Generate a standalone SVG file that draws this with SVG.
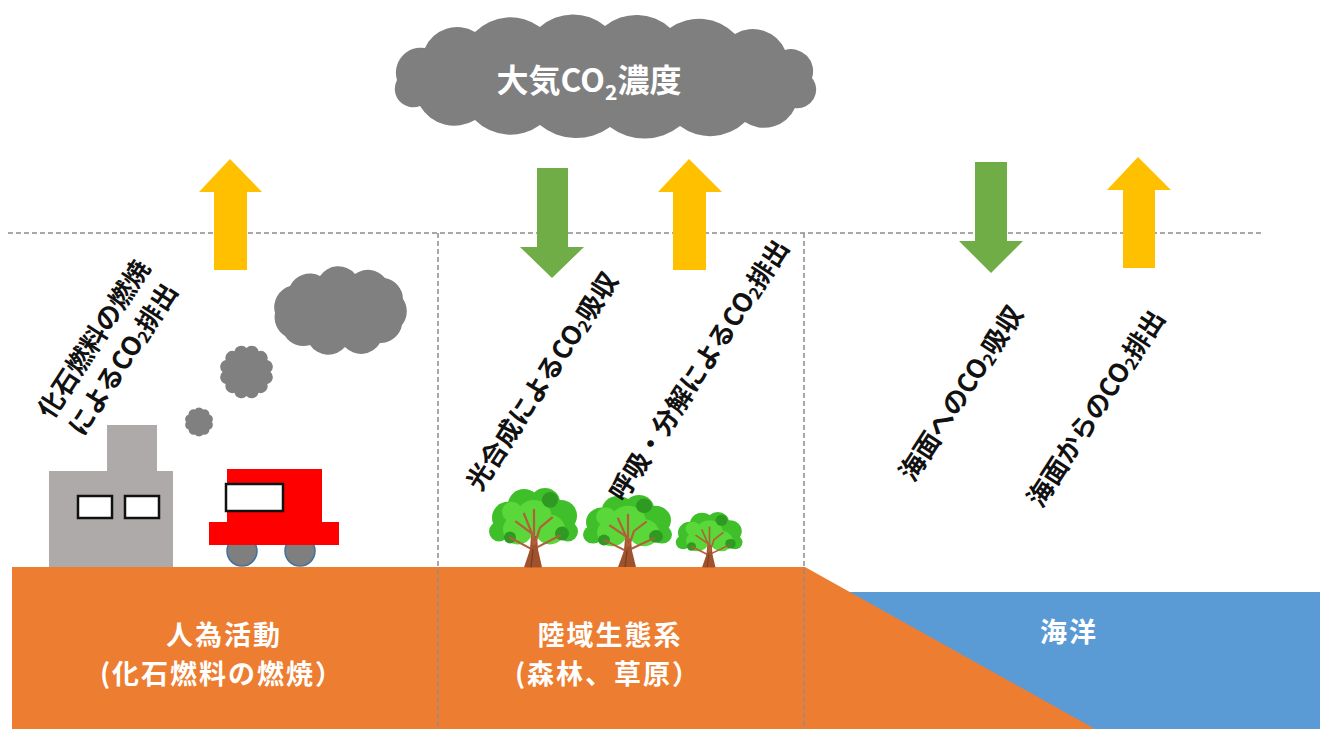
<svg xmlns="http://www.w3.org/2000/svg" xmlns:xlink="http://www.w3.org/1999/xlink" width="1323" height="729" viewBox="0 0 1323 729">
  <style>
    .jp { font-family: "Noto Sans CJK JP", "Noto Sans", sans-serif; font-weight: bold; }
    .label { fill: #ffffff; font-size: 27px; letter-spacing: 2px; text-anchor: middle; }
    .flowtxt { fill: #111111; font-size: 26px; text-anchor: middle; dominant-baseline: central; }
    .dash { stroke: #8c8c8c; stroke-width: 1.5; stroke-dasharray: 5 3; fill: none; }
    .smoke { fill: #808080; }
    .up { fill: #FFC000; }
    .down { fill: #70AD47; }
    .win { fill: #ffffff; stroke: #111111; stroke-width: 2.5; }
  </style>
  <defs>
    <!-- broad-leaf tree, 90 x 80 box, base at y=80 -->
    <g id="tree">
      <path d="M36,80 L54,80 L50,62 L49,48 L43,48 L42,62 Z" fill="#a0522d"/>
      <g fill="#3fbf2a">
        <circle cx="20" cy="30" r="16"/>
        <circle cx="36" cy="17" r="16"/>
        <circle cx="57" cy="15" r="15"/>
        <circle cx="73" cy="28" r="16"/>
        <circle cx="80" cy="44" r="10"/>
        <circle cx="11" cy="44" r="10"/>
      </g>
      <g fill="#5ad83a">
        <circle cx="30" cy="42" r="15"/>
        <circle cx="62" cy="42" r="15"/>
        <circle cx="46" cy="30" r="18"/>
        <circle cx="24" cy="24" r="10"/>
      </g>
      <g fill="#2f9a22">
        <circle cx="62" cy="12" r="8"/>
        <circle cx="74" cy="46" r="7"/>
        <circle cx="22" cy="50" r="6"/>
      </g>
      <g stroke="#b0603a" stroke-width="2.2" fill="none" stroke-linecap="round">
        <path d="M46,60 L44,46 L28,34"/>
        <path d="M47,56 L52,40 L64,30"/>
        <path d="M46,50 L46,22"/>
        <path d="M44,62 L22,50"/>
        <path d="M49,60 L72,48"/>
        <path d="M44,46 L36,26"/>
      </g>
      <path d="M38,80 L52,80 L49,58 L43,58 Z" fill="#a0522d"/>
      <path d="M43,80 L45,62" stroke="#7a3b1d" stroke-width="1.2"/>
    </g>
  </defs>

  <rect width="1323" height="729" fill="#ffffff"/>

  <!-- ground and sea -->
  <g id="ocean">
    <rect x="838" y="592" width="482" height="137" fill="#5B9BD5"/>
    <text class="jp label" x="1069" y="642">海洋</text>
  </g>
  <g id="land">
    <polygon points="12,567 805,567 1095,729 12,729" fill="#ED7D31"/>
  </g>
  <g id="human-activity">
    <text class="jp label" x="224" y="645">人為活動</text>
    <text class="jp label" x="222" y="684">(化石燃料の燃焼）</text>
  </g>
  <g id="terrestrial">
    <text class="jp label" x="610" y="645">陸域生態系</text>
    <text class="jp label" x="608" y="684">(森林、草原）</text>
  </g>

  <!-- atmosphere -->
  <g id="atmosphere">
    <path fill="#7f7f7f" d="M397,80 A25,25 0 0 1 425,48 A35,35 0 0 1 475,32 A50,50 0 0 1 540,27 A50,50 0 0 1 605,26 A50,50 0 0 1 670,28 A50,50 0 0 1 735,34 A35,35 0 0 1 785,50 A22,22 0 0 1 812,78 A18.5,18.5 0 0 1 795,108 A34,34 0 0 1 745,122 A50,50 0 0 1 680,126 A57,57 0 0 1 610,127 A57,57 0 0 1 540,125 A50,50 0 0 1 475,120 A40,40 0 0 1 420,106 A18.5,18.5 0 0 1 397,80 Z"/>
    <text class="jp" x="589" y="92" fill="#ffffff" font-size="32" text-anchor="middle">大気CO<tspan font-size="21" dy="8">2</tspan><tspan dy="-8">濃度</tspan></text>
  </g>

  <!-- boundaries -->
  <g id="boundaries">
    <line class="dash" x1="8" y1="233" x2="1262" y2="233"/>
    <line class="dash" x1="438" y1="233" x2="438" y2="729"/>
    <line class="dash" x1="804" y1="233" x2="804" y2="729"/>
  </g>

  <!-- factory -->
  <g id="factory">
    <rect x="107" y="425" width="50" height="50" fill="#AEAAAA"/>
    <rect x="49" y="471" width="124" height="96" fill="#AEAAAA"/>
    <rect class="win" x="78" y="496" width="34" height="22"/>
    <rect class="win" x="125" y="496" width="34" height="22"/>
  </g>

  <!-- car -->
  <g id="car">
    <circle cx="242" cy="551" r="15" fill="#7f7f7f" stroke="#41719C" stroke-width="1.5"/>
    <circle cx="300" cy="551" r="15" fill="#7f7f7f" stroke="#41719C" stroke-width="1.5"/>
    <rect x="227" y="469" width="95" height="55" fill="#FF0000"/>
    <rect x="209" y="522" width="130" height="23" fill="#FF0000"/>
    <rect class="win" x="226" y="484" width="57" height="27"/>
  </g>

  <!-- exhaust smoke -->
  <g id="smoke">
    <path class="smoke" d="M275,313 A22,22 0 0 1 290,286 A22,22 0 0 1 320,276 A22,22 0 0 1 355,274 A22,22 0 0 1 385,278 A22,22 0 0 1 403,299 A22,22 0 0 1 402,325 A22,22 0 0 1 380,343 A22,22 0 0 1 345,347 A22,22 0 0 1 310,345 A22,22 0 0 1 285,336 A22,22 0 0 1 275,313 Z"/>
    <path class="smoke" d="M270.5,372 A7,7 0 0 1 267.3,384 A7,7 0 0 1 258.5,392.8 A7,7 0 0 1 246.5,396 A7,7 0 0 1 234.5,392.8 A7,7 0 0 1 225.7,384 A7,7 0 0 1 222.5,372 A7,7 0 0 1 225.7,360 A7,7 0 0 1 234.5,351.2 A7,7 0 0 1 246.5,348 A7,7 0 0 1 258.5,351.2 A7,7 0 0 1 267.3,360 A7,7 0 0 1 270.5,372 Z"/>
    <path class="smoke" d="M212,422 A5,5 0 0 1 209.5,429.6 A5,5 0 0 1 203,434.4 A5,5 0 0 1 195,434.4 A5,5 0 0 1 188.5,429.6 A5,5 0 0 1 186,422 A5,5 0 0 1 188.5,414.4 A5,5 0 0 1 195,409.6 A5,5 0 0 1 203,409.6 A5,5 0 0 1 209.5,414.4 A5,5 0 0 1 212,422 Z"/>
  </g>

  <!-- forest -->
  <g id="trees">
    <use xlink:href="#tree" href="#tree" transform="translate(488,488) scale(1,0.99)"/>
    <use xlink:href="#tree" href="#tree" transform="translate(582,495) scale(1,0.9)"/>
    <use xlink:href="#tree" href="#tree" transform="translate(675,512) scale(0.75,0.69)"/>
  </g>

  <!-- CO2 flow arrows -->
  <g id="flows">
    <polygon class="up" points="214,270 214,192 199,192 230,159 262,192 247,192 247,270"/>
    <polygon class="down" points="537,168 568,168 568,247 584,247 552,278 520,247 537,247"/>
    <polygon class="up" points="673,270 673,192 658,192 689,159 722,192 706,192 706,270"/>
    <polygon class="down" points="975,162 1007,162 1007,241 1023,241 991,273 959,241 975,241"/>
    <polygon class="up" points="1123,268 1123,190 1107,190 1138,157 1171,190 1155,190 1155,268"/>
  </g>

  <!-- flow labels -->
  <g id="flow-labels">
    <text class="jp flowtxt" transform="translate(92,338) rotate(-57)">化石燃料の燃焼</text>
    <text class="jp flowtxt" transform="translate(121,358) rotate(-57)">によるCO<tspan font-size="17" dy="6">2</tspan><tspan dy="-6">排出</tspan></text>
    <text class="jp flowtxt" transform="translate(540,380) rotate(-57)">光合成によるCO<tspan font-size="17" dy="6">2</tspan><tspan dy="-6">吸収</tspan></text>
    <text class="jp flowtxt" transform="translate(697,369) rotate(-57)">呼吸・分解によるCO<tspan font-size="17" dy="6">2</tspan><tspan dy="-6">排出</tspan></text>
    <text class="jp flowtxt" transform="translate(959,392) rotate(-57)">海面へのCO<tspan font-size="17" dy="6">2</tspan><tspan dy="-6">吸収</tspan></text>
    <text class="jp flowtxt" transform="translate(1094,407) rotate(-57)">海面からのCO<tspan font-size="17" dy="6">2</tspan><tspan dy="-6">排出</tspan></text>
  </g>
</svg>
